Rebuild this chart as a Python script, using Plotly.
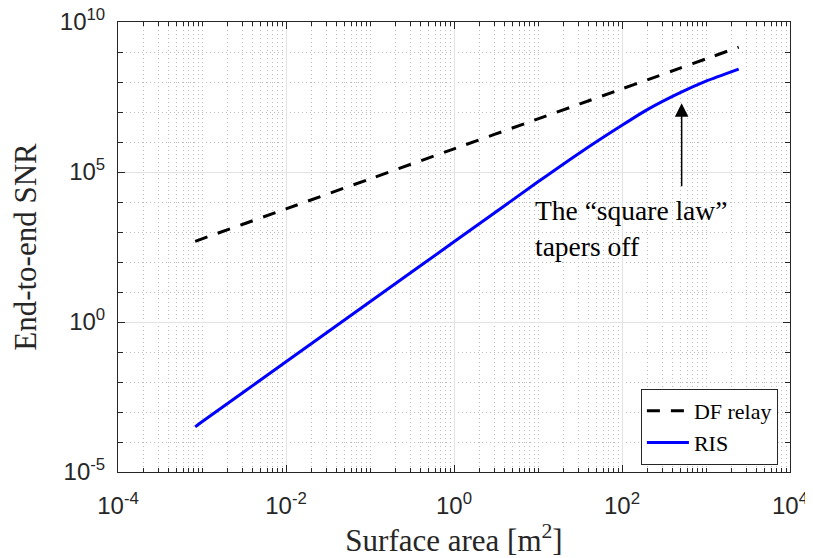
import numpy as np
import plotly.graph_objects as go

# ---- data ----
area = [8.3e-4, 1e-3, 1e-2, 1e-1, 1, 10, 31.6, 100, 200, 500, 1000, 2450]
snr_df = [490, 590, 5.9e3, 5.9e4, 5.9e5, 5.9e6, 1.86e7, 5.9e7, 1.18e8, 2.95e8, 5.9e8, 1.45e9]
snr_ris = [3.2e-4, 4.7e-4, 4.7e-2, 4.7, 470, 4.7e4, 4.4e5, 3.6e6, 1.2e7, 4.5e7, 1.07e8, 2.7e8]

x_ticks = [1e-4, 1e-2, 1e0, 1e2, 1e4]
x_ticktext = ["10<sup>-4</sup>", "10<sup>-2</sup>", "10<sup>0</sup>", "10<sup>2</sup>", "10<sup>4</sup>"]
y_ticks = [1e-5, 1e0, 1e5, 1e10]
y_ticktext = ["10<sup>-5</sup>", "10<sup>0</sup>", "10<sup>5</sup>", "10<sup>10</sup>"]

arrow_area = 513
arrow_tip_snr = 1.95e7
arrow_tail_snr = 3.0e4
note_area = 8.6
note_top_snr = 2.0e4
note_text = "The \u201csquare law\u201d<br>tapers off"

# minor ticks
x_minor = []
for e in range(-4, 4):
    for m in range(1, 10):
        v = m * 10.0 ** e
        if not (m == 1 and e % 2 == 0):
            x_minor.append(v)
y_minor = [10.0 ** e for e in range(-5, 11) if e % 5 != 0]

AX = "#262626"
SERIF = "Liberation Serif, Times New Roman, serif"
SANS = "Liberation Sans, Arial, sans-serif"

fig = go.Figure()
fig.add_trace(go.Scatter(x=area, y=snr_df, mode="lines", name="DF relay",
                         line=dict(color="black", width=3, dash="13px,11px", shape="spline", smoothing=0.6)))
fig.add_trace(go.Scatter(x=area, y=snr_ris, mode="lines", name="RIS",
                         line=dict(color="#0000ff", width=3, shape="spline", smoothing=0.6)))

fig.add_annotation(x=np.log10(arrow_area), y=np.log10(arrow_tip_snr),
                   ax=np.log10(arrow_area), ay=np.log10(arrow_tail_snr),
                   xref="x", yref="y", axref="x", ayref="y",
                   showarrow=True, arrowhead=2, arrowsize=1.8, arrowwidth=1.5,
                   arrowcolor="black", standoff=0, text="")
fig.add_annotation(x=np.log10(note_area), y=np.log10(note_top_snr),
                   xref="x", yref="y", xanchor="left", yanchor="top",
                   text=note_text, showarrow=False, align="left",
                   font=dict(family=SERIF, size=27.5, color="black"))

grid_major = "#e3e3e3"
grid_minor = "#bdbdbd"
common = dict(ticks="inside", ticklen=7, tickcolor=AX,
              showline=True, linecolor=AX, linewidth=1, mirror="allticks",
              showgrid=True, gridcolor=grid_major, gridwidth=1,
              zeroline=False, automargin=False, ticklabeloverflow="allow",
              tickfont=dict(family=SANS, size=24, color=AX))
fig.update_xaxes(type="log", range=[-4, 4],
                 tickvals=x_ticks, ticktext=x_ticktext, ticklabelstandoff=12,
                 minor=dict(tickvals=x_minor, ticks="inside", ticklen=4, tickcolor=AX,
                            showgrid=True, gridcolor=grid_minor, griddash="1px,3px", gridwidth=1),
                 title=dict(text="Surface area [m<sup>2</sup>]",
                            font=dict(family=SERIF, size=31, color=AX), standoff=0),
                 **common)
fig.update_yaxes(type="log", range=[-5, 10],
                 tickvals=y_ticks, ticktext=y_ticktext, ticklabelstandoff=7,
                 minor=dict(tickvals=y_minor, ticks="inside", ticklen=5, tickcolor=AX,
                            showgrid=True, gridcolor=grid_minor, griddash="1px,3px", gridwidth=1),
                 title=dict(text="End-to-end SNR",
                            font=dict(family=SERIF, size=31, color=AX), standoff=28),
                 **common)

# the page body adds an 8px offset, so the figure is 8px smaller and margins are shifted
fig.update_layout(width=805, height=550,
                  margin=dict(l=110, r=23, t=14, b=86, autoexpand=False),
                  paper_bgcolor="white", plot_bgcolor="white",
                  showlegend=True,
                  legend=dict(x=0.982, y=0.1844, xanchor="right", yanchor="top",
                              bgcolor="white", bordercolor=AX, borderwidth=1,
                              font=dict(family=SERIF, size=22, color="black"),
                              tracegroupgap=0, itemwidth=42))

fig.write_html("out.html")
